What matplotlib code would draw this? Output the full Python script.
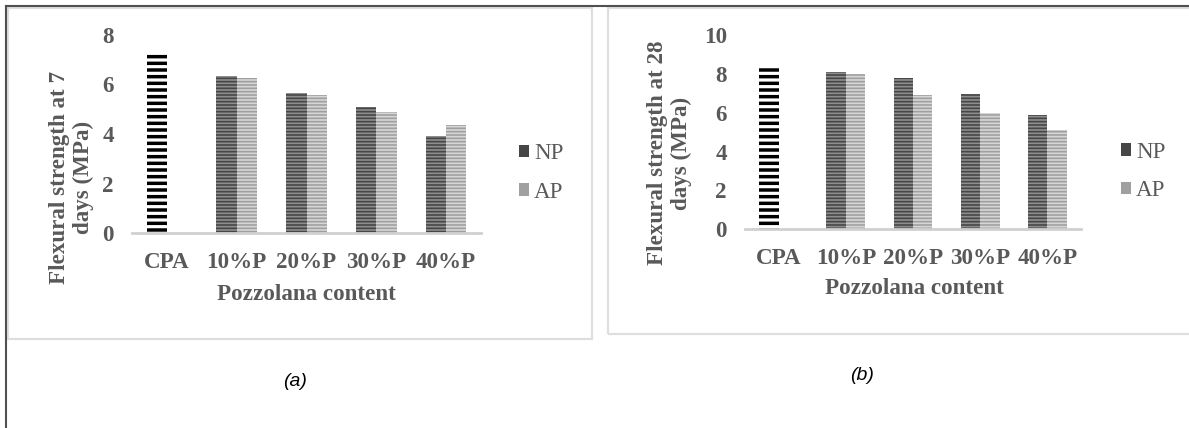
import numpy as np
import matplotlib.pyplot as plt
from matplotlib.patches import Patch, Rectangle
from matplotlib.lines import Line2D

# values (MPa)
categories = ['CPA', '10%P', '20%P', '30%P', '40%P']
np_7 = [7.3, 6.36, 5.67, 5.09, 3.9]
ap_7 = [np.nan, 6.25, 5.58, 4.87, 4.37]
np_28 = [8.37, 8.11, 7.77, 6.96, 5.9]
ap_28 = [np.nan, 7.99, 6.91, 6.0, 5.11]
yticks_7 = [0, 2, 4, 6, 8]
yticks_28 = [0, 2, 4, 6, 8, 10]

W, H = 1189, 428
DPI = 200
GREY = '#595959'
FS = 8.3
plt.rcParams['font.family'] = ['Liberation Serif', 'DejaVu Serif']

# bar styles: (face, stripe colour, hatch, hatch linewidth)
cpa_style = ('white', 'black', '-----', 1.25)
np_style = ('#8e8e8e', '#464646', '----------', 0.6)
ap_style = ('#d6d6d6', '#a0a0a0', '----------', 0.6)


def px_rect(left, top, right, bottom):
    return [left / W, 1 - bottom / H, (right - left) / W, (bottom - top) / H]


def style_bar(bar, style):
    face, stripe, hatch, hlw = style
    bar.set_facecolor(face)
    bar.set_edgecolor(stripe)
    bar.set_linewidth(0)
    bar.set_hatch(hatch)
    if hasattr(bar, 'set_hatch_linewidth'):
        bar.set_hatch_linewidth(hlw)


def draw_panel(ax, np_vals, ap_vals, yticks):
    x = np.arange(len(categories))
    w = 0.29
    with plt.rc_context({'hatch.linewidth': 0.6}):
        np_bars = ax.bar(x - w / 2, np_vals, w)
        ap_bars = ax.bar(x + w / 2, ap_vals, w)
    for b in np_bars:
        style_bar(b, np_style)
    for b in ap_bars:
        style_bar(b, ap_style)
    style_bar(np_bars[0], cpa_style)   # control mix drawn with bold stripes

    ax.set_xlim(-0.5, len(categories) - 0.5)
    ax.set_ylim(0, yticks[-1])
    ax.set_yticks(yticks)
    ax.set_xticks(x)
    ax.set_xticklabels(categories)
    for s in ['top', 'right', 'left']:
        ax.spines[s].set_visible(False)
    ax.spines['bottom'].set_color('#d0d0d0')
    ax.spines['bottom'].set_linewidth(1.0)
    ax.tick_params(length=0, labelsize=FS, labelcolor=GREY)
    ax.tick_params(axis='y', pad=6.5)
    ax.tick_params(axis='x', pad=6.8)
    for lab in ax.get_xticklabels() + ax.get_yticklabels():
        lab.set_fontweight('bold')


fig = plt.figure(figsize=(W / DPI, H / DPI), dpi=DPI)

# outer frame (top and left only visible) and the two chart-area boxes
fig.add_artist(Line2D([6 / W, 1], [1 - 5.5 / H, 1 - 5.5 / H], color='#505050', lw=0.75))
fig.add_artist(Line2D([6 / W, 6 / W], [0, 1 - 5.5 / H], color='#505050', lw=0.75))
fig.add_artist(Rectangle((8 / W, 1 - 339 / H), 584 / W, 331 / H, fill=False,
                         edgecolor='#dedede', lw=0.8))
fig.add_artist(Rectangle((608 / W, 1 - 334 / H), 600 / W, 326 / H, fill=False,
                         edgecolor='#dedede', lw=0.8))

ax1 = fig.add_axes(px_rect(132, 35, 481, 233))
draw_panel(ax1, np_7, ap_7, yticks_7)
ax2 = fig.add_axes(px_rect(745, 35, 1081, 229.3))
draw_panel(ax2, np_28, ap_28, yticks_28)

lab_kw = dict(fontsize=FS, fontweight='bold', color=GREY, ha='center', va='center')
fig.text(306 / W, 1 - 294 / H, 'Pozzolana content', **lab_kw)
fig.text(914 / W, 1 - 289 / H, 'Pozzolana content', **lab_kw)
fig.text(71.5 / W, 1 - 177 / H, 'Flexural strength at 7\ndays (MPa)', rotation=90,
         linespacing=1.15, **lab_kw)
fig.text(669.5 / W, 1 - 153 / H, 'Flexural strength at 28\ndays (MPa)', rotation=90,
         linespacing=1.15, **lab_kw)

handles = [Patch(facecolor=np_style[1], edgecolor='none', label='NP'),
           Patch(facecolor=ap_style[1], edgecolor='none', label='AP')]
for lx, ly in [(519, 173), (1121, 171.5)]:
    fig.legend(handles=handles, loc='center left', bbox_to_anchor=(lx / W, 1 - ly / H),
               frameon=False, fontsize=FS, labelcolor=GREY, handlelength=0.45,
               handleheight=0.45, handletextpad=0.2, labelspacing=0.75,
               borderpad=0, borderaxespad=0)

cap_kw = dict(fontsize=7, style='italic', family='Liberation Sans', color='black',
              ha='center', va='center')
fig.text(295 / W, 1 - 381 / H, '(a)', **cap_kw)
fig.text(862 / W, 1 - 375 / H, '(b)', **cap_kw)

fig.savefig('out.png', dpi=DPI)
